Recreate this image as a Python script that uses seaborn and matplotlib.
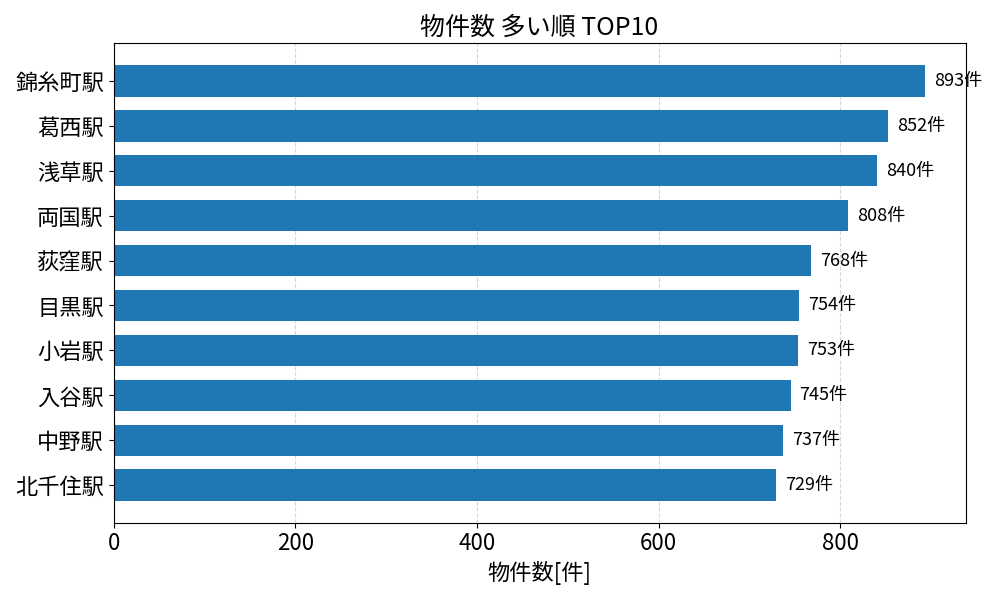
import matplotlib
matplotlib.use("Agg")
import matplotlib.pyplot as plt
import seaborn as sns
import pandas as pd

stations = ["錦糸町駅", "葛西駅", "浅草駅", "両国駅", "荻窪駅",
            "目黒駅", "小岩駅", "入谷駅", "中野駅", "北千住駅"]
counts = [893, 852, 840, 808, 768, 754, 753, 745, 737, 729]

plt.rcParams['font.family'] = ['Noto Sans CJK JP', 'DejaVu Sans']

df = pd.DataFrame({"station": stations, "count": counts})

fig, ax = plt.subplots(figsize=(10, 6), dpi=100)
sns.barplot(data=df, x="count", y="station", orient="h", color="#1f77b4",
            saturation=1, width=0.7, ax=ax)

for i, v in enumerate(counts):
    ax.text(v + 10, i, f"{v}件", va="center", ha="left", fontsize=13)

# matplotlib-style margins around the bars
pad = (len(counts) - 1 + 0.7) * 0.05
ax.set_ylim(len(counts) - 1 + 0.35 + pad, -0.35 - pad)
ax.set_xlim(0, max(counts) * 1.05)
ax.set_title("物件数 多い順 TOP10", fontsize=18)
ax.set_xlabel("物件数[件]", fontsize=16)
ax.set_ylabel("")
ax.tick_params(axis="both", labelsize=16)
ax.grid(axis="x", linestyle="--", alpha=0.5)
ax.set_axisbelow(True)

plt.tight_layout()
plt.savefig("out.png")
